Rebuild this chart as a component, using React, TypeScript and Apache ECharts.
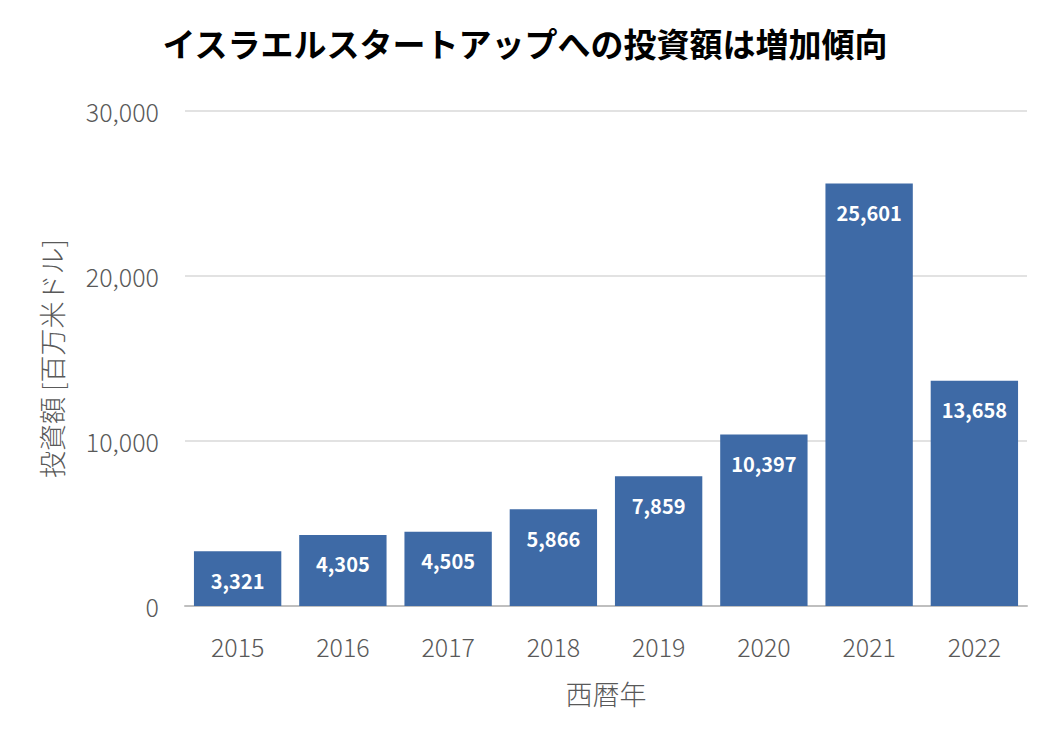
import React, { useEffect, useRef } from "react";
import * as echarts from "echarts";

const title = "イスラエルスタートアップへの投資額は増加傾向";
const years = ["2015", "2016", "2017", "2018", "2019", "2020", "2021", "2022"];
const investment = [3321, 4305, 4505, 5866, 7859, 10397, 25601, 13658];
const yAxisName = "投資額 [百万米ドル]";
const xAxisName = "西暦年";

const FONT = "'Noto Sans CJK JP', 'Noto Sans', sans-serif";

export default function App() {
  const ref = useRef<HTMLDivElement>(null);
  useEffect(() => {
    document.body.style.margin = "0";
    if (!ref.current) return;
    const chart = echarts.init(ref.current, undefined, { renderer: "svg" });
    chart.setOption({
      animation: false,
      backgroundColor: "#ffffff",
      textStyle: { fontFamily: FONT },
      title: {
        text: title,
        left: "center",
        top: 21,
        textStyle: { fontFamily: FONT, fontSize: 33, fontWeight: "bold", color: "#000" },
      },
      grid: { left: 185, right: 23, top: 111, bottom: 139 },
      xAxis: {
        type: "category",
        data: years,
        name: xAxisName,
        nameLocation: "middle",
        nameGap: 74,
        nameTextStyle: { fontFamily: FONT, fontSize: 27, color: "#595959", fontWeight: 300 },
        axisTick: { show: false },
        axisLine: { lineStyle: { color: "#bfbfbf", width: 2 } },
        axisLabel: { margin: 27, fontFamily: FONT, fontSize: 25, color: "#595959", fontWeight: 300 },
      },
      yAxis: {
        type: "value",
        min: 0,
        max: 30000,
        interval: 10000,
        name: yAxisName,
        nameLocation: "middle",
        nameGap: 120,
        nameRotate: 90,
        nameTextStyle: { fontFamily: FONT, fontSize: 27, color: "#595959", fontWeight: 300 },
        axisLine: { show: false },
        axisTick: { show: false },
        splitLine: { lineStyle: { color: "#d9d9d9", width: 1.5 } },
        axisLabel: {
          margin: 26,
          fontFamily: FONT,
          fontSize: 25,
          color: "#595959",
          fontWeight: 300,
          formatter: (v: number) => v.toLocaleString("en-US"),
        },
      },
      series: [
        {
          type: "bar",
          data: investment,
          barCategoryGap: "17%",
          itemStyle: { color: "#3e6aa6" },
          label: {
            show: true,
            position: "insideTop",
            distance: 19,
            color: "#ffffff",
            fontFamily: FONT,
            fontSize: 20,
            fontWeight: "bold",
            formatter: (p: any) => Number(p.value).toLocaleString("en-US"),
          },
        },
      ],
    });
    return () => chart.dispose();
  }, []);
  return <div ref={ref} style={{ width: 1050, height: 745 }} />;
}
